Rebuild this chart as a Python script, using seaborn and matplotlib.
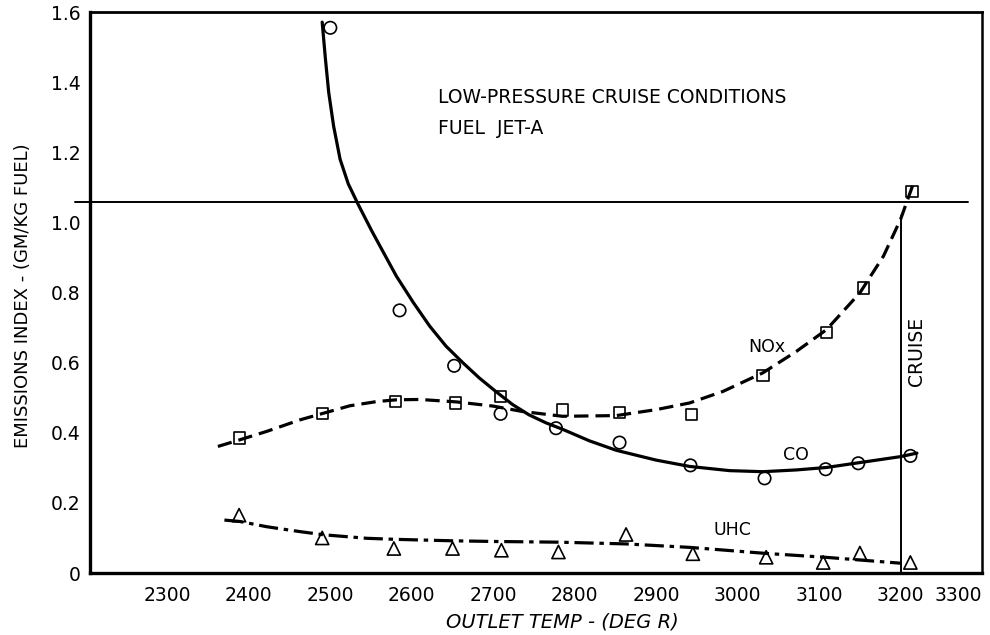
import matplotlib
matplotlib.use("Agg")
import matplotlib.pyplot as plt
import seaborn as sns

# Measured points (outlet temperature, deg R) and emissions index (g/kg fuel)
co_temp = [2500, 2585, 2652, 2709, 2777, 2855, 2942, 3033, 3108, 3148, 3212]
co_ei = [1.555, 0.749, 0.591, 0.454, 0.413, 0.372, 0.307, 0.27, 0.296, 0.313, 0.334]

nox_temp = [2389, 2490, 2580, 2654, 2709, 2785, 2855, 2943, 3031, 3109, 3154, 3214]
nox_ei = [0.385, 0.455, 0.489, 0.485, 0.503, 0.465, 0.458, 0.451, 0.563, 0.687, 0.813, 1.088]

uhc_temp = [2388, 2490, 2578, 2650, 2710, 2780, 2863, 2945, 3035, 3105, 3150, 3212]
uhc_ei = [0.165, 0.10, 0.07, 0.07, 0.065, 0.06, 0.11, 0.055, 0.045, 0.03, 0.057, 0.03]

# Faired curves through the measurements
co_fit_temp = [2490, 2494, 2498, 2504, 2512, 2522, 2534, 2551, 2562, 2581, 2602,
               2622, 2642, 2663, 2683, 2703, 2724, 2744, 2765, 2785, 2818, 2851,
               2900, 2941, 2990, 3031, 3072, 3109, 3150, 3200, 3220]
co_fit_ei = [1.571, 1.466, 1.371, 1.275, 1.18, 1.11, 1.052, 0.975, 0.928, 0.847,
             0.771, 0.704, 0.647, 0.599, 0.556, 0.518, 0.48, 0.451, 0.428, 0.41,
             0.377, 0.35, 0.322, 0.304, 0.292, 0.289, 0.294, 0.301, 0.315, 0.332,
             0.342]

nox_fit_temp = [2362, 2389, 2422, 2463, 2492, 2524, 2557, 2581, 2610, 2655, 2700,
                2735, 2785, 2851, 2900, 2941, 2982, 3031, 3072, 3109, 3150, 3179,
                3200, 3208, 3216]
nox_fit_ei = [0.361, 0.38, 0.404, 0.437, 0.456, 0.477, 0.489, 0.494, 0.495, 0.488,
              0.476, 0.461, 0.447, 0.449, 0.466, 0.485, 0.518, 0.571, 0.632, 0.694,
              0.799, 0.904, 1.009, 1.061, 1.113]

uhc_fit_temp = [2370, 2389, 2422, 2463, 2492, 2545, 2581, 2648, 2700, 2780, 2863,
                2942, 3034, 3107, 3200]
uhc_fit_ei = [0.151, 0.147, 0.132, 0.118, 0.109, 0.099, 0.096, 0.092, 0.09, 0.088,
              0.083, 0.073, 0.056, 0.045, 0.028]

x_ticks = [2300, 2400, 2500, 2600, 2700, 2800, 2900, 3000, 3100, 3200, 3300]
y_ticks = [0, 0.2, 0.4, 0.6, 0.8, 1.0, 1.2, 1.4, 1.6]
y_tick_labels = ["0", "0.2", "0.4", "0.6", "0.8", "1.0", "1.2", "1.4", "1.6"]

reference_level = 1.057
cruise_temp = 3200
cruise_top = 1.018

sns.set_theme(style="white")
plt.rcParams["font.family"] = ["DejaVu Sans"]

fig = plt.figure(figsize=(9.9, 6.35), dpi=100)
ax = fig.add_axes([0.0909, 0.0976, 0.9011, 0.8835])

ink = "black"
lw = 2.3

sns.lineplot(x=co_fit_temp, y=co_fit_ei, ax=ax, color=ink, linewidth=lw,
             sort=False, estimator=None)
sns.lineplot(x=nox_fit_temp, y=nox_fit_ei, ax=ax, color=ink, linewidth=lw,
             sort=False, estimator=None, linestyle=(0, (4.5, 2.2)))
sns.lineplot(x=uhc_fit_temp, y=uhc_fit_ei, ax=ax, color=ink, linewidth=lw,
             sort=False, estimator=None, linestyle=(0, (6, 1.8, 1.4, 1.8)))

sns.scatterplot(x=co_temp, y=co_ei, ax=ax, marker="o", s=80,
                facecolor="none", edgecolor=ink, linewidth=1.2, zorder=4)
sns.scatterplot(x=nox_temp, y=nox_ei, ax=ax, marker="s", s=65,
                facecolor="none", edgecolor=ink, linewidth=1.2, zorder=4)
sns.scatterplot(x=uhc_temp, y=uhc_ei, ax=ax, marker="^", s=90,
                facecolor="none", edgecolor=ink, linewidth=1.2, zorder=4)

# Reference level and cruise marker line
ax.axhline(reference_level, xmin=-0.017, xmax=0.984, color=ink, linewidth=1.4,
           clip_on=False)
ax.plot([cruise_temp, cruise_temp], [0, cruise_top], color=ink, linewidth=1.4)

ax.set_xlim(2205, 3300)
ax.set_ylim(0, 1.6)
ax.set_xticks(x_ticks)
ax.set_yticks(y_ticks)
ax.set_yticklabels(y_tick_labels)

ax.tick_params(axis="both", direction="in", length=7, width=1.6, colors=ink,
               labelsize=13.5)
ax.tick_params(axis="x", pad=9)
ax.tick_params(axis="y", pad=7)
# the last temperature label sits flush with the right frame
ax.get_xticklabels()[-1].set_horizontalalignment("right")

for side, width in {"left": 2.4, "bottom": 2.4, "top": 2.0, "right": 1.8}.items():
    ax.spines[side].set_visible(True)
    ax.spines[side].set_color(ink)
    ax.spines[side].set_linewidth(width)

fig.text(0.0232, 0.534, "EMISSIONS INDEX - (GM/KG FUEL)", fontsize=13,
         rotation=90, ha="center", va="center", color=ink)
fig.text(0.568, 0.0205, "OUTLET TEMP - (DEG R)", fontsize=14, fontstyle="italic",
         ha="center", va="center", color=ink)

ax.text(0.39, 0.847, "LOW-PRESSURE CRUISE CONDITIONS", transform=ax.transAxes,
        fontsize=13.5, ha="left", va="center", color=ink)
ax.text(0.39, 0.793, "FUEL  JET-A", transform=ax.transAxes,
        fontsize=13.5, ha="left", va="center", color=ink)

ax.text(3036, 0.646, "NOx", fontsize=12.5, ha="center", va="center", color=ink)
ax.text(3071, 0.337, "CO", fontsize=12.5, ha="center", va="center", color=ink)
ax.text(2994, 0.123, "UHC", fontsize=12.5, ha="center", va="center", color=ink)
ax.text(3219, 0.631, "CRUISE", fontsize=13.5, rotation=90, ha="center",
        va="center", color=ink)

fig.savefig("out.png", dpi=100, facecolor="white")
